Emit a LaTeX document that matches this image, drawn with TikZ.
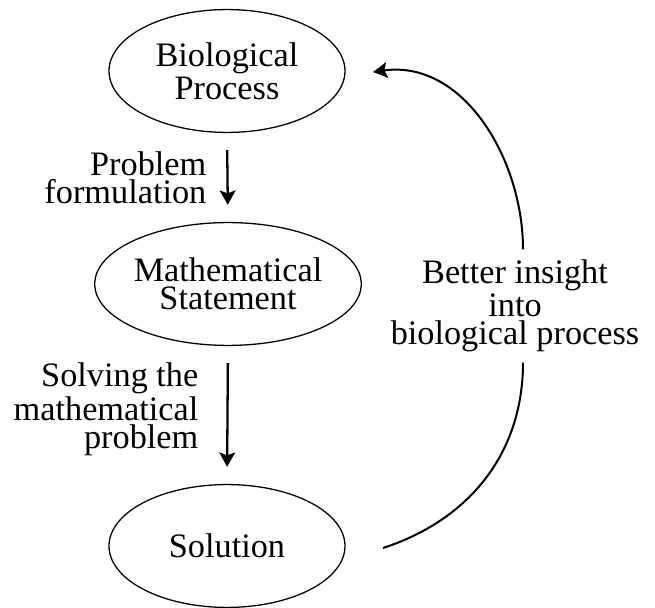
\documentclass[tikz,border=0pt]{standalone}
\usepackage{fontspec}
\setmainfont{Liberation Serif}
\usetikzlibrary{arrows.meta}
\usetikzlibrary{positioning, shapes.geometric}

\tikzset{
  stage/.style={ellipse, draw, line width=0.45pt, minimum width=82.6pt, minimum height=43pt, align=center, inner sep=0pt},
  flow/.style={-{Stealth[length=5pt,width=5.5pt,inset=1pt]}, line width=0.8pt, shorten <=6pt, shorten >=6pt},
  feedback/.style={line width=0.7pt},
  lbl/.style={align=right, inner sep=0pt},
}

\begin{document}
\begin{tikzpicture}[x=0.35pt, y=0.35pt, font={\fontsize{12}{9.8}\selectfont}]
    \useasboundingbox (0,0) rectangle (655,608);

    % the three stages
    \node[stage] (bio) at (227,537) {Biological\\Process};
    \node[stage] (math) at (228,324) {Mathematical\\Statement};
    \node[stage] (sol) at (227,62) {Solution};

    % going down the chain
    \draw[flow] (bio.south) -- node[lbl, left=7pt] (formulate) {Problem\\formulation} (math.north);
    \draw[flow] (math.south) -- node[lbl, left=9.8pt, yshift=2pt] (solving) {Solving the\\mathematical\\problem} (sol.north);

    % feedback loop back to the top
    \node[align=center, inner sep=3.5pt] (insight) at (515,302) {Better insight\\into\\biological process};
    \coordinate (loopstart) at (383,60);
    \coordinate (loopend) at (373,536);
    \draw[feedback] (loopstart) to[out=18, in=-90] ([xshift=2.8pt]insight.south);
    \draw[feedback, -{Stealth[length=5pt,width=5.5pt,inset=1pt]}] ([xshift=2.8pt]insight.north) to[out=90, in=8] (loopend);
\end{tikzpicture}
\end{document}
